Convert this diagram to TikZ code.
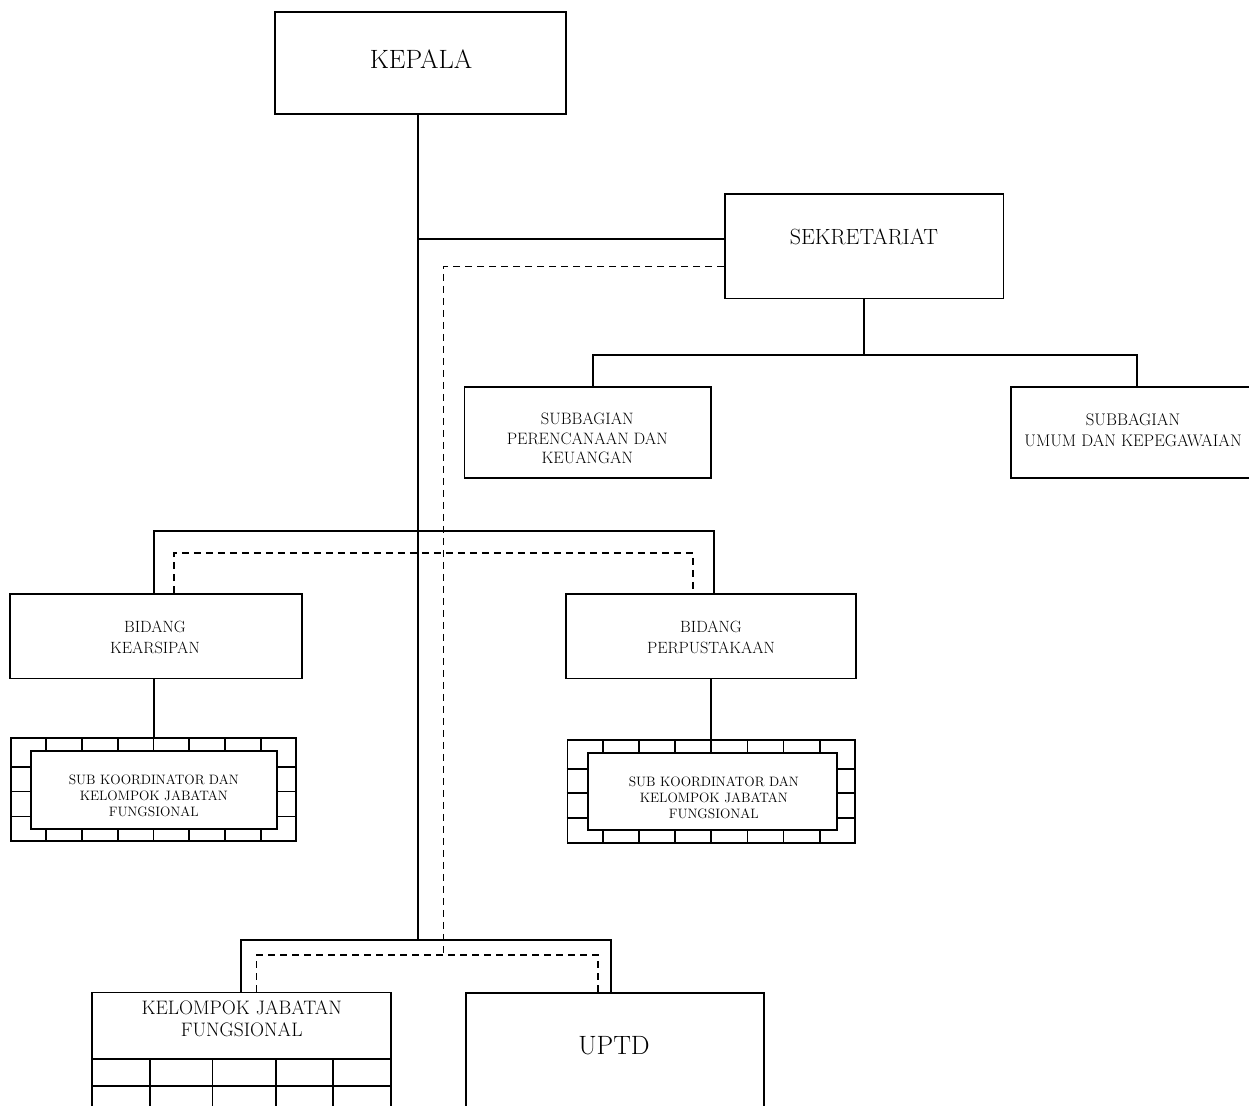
\documentclass[tikz,border=0pt]{standalone}
\usetikzlibrary{calc}
\begin{document}
\begin{tikzpicture}[x=1pt,y=-1pt,
  unit/.style={draw, line width=1.7pt, inner sep=0pt},
  caption/.style={inner sep=0pt, align=center},
  solidlink/.style={line width=1.7pt},
  dashlink/.style={line width=1.5pt, dash pattern=on 7pt off 5pt},
  brick/.style={line width=1.7pt}]
\useasboundingbox (0,0) rectangle (1249,1105);
\clip (0,0) rectangle (1249,1105);

% ---------- boxes ----------
\node[unit, minimum width=291pt, minimum height=102.6pt] (kepala) at (420.5,63) {};
\node[caption, font=\fontsize{26.5}{31}\selectfont] (kepala-t) at (421,59) {KEPALA};

\node[unit, minimum width=278.3pt, minimum height=104.3pt] (sek) at (864.2,246.2) {};
\node[caption, font=\fontsize{22}{26}\selectfont] (sek-t) at (864,237) {SEKRETARIAT};

\node[unit, minimum width=246.7pt, minimum height=91pt] (sub1) at (587.7,432.8) {};
\node[caption, font=\fontsize{16.5}{19.7}\selectfont] (sub1-t) at (587.3,438.5)
  {SUBBAGIAN\\PERENCANAAN DAN\\KEUANGAN};

\node[unit, minimum width=244pt, minimum height=91pt] (sub2) at (1133,432.5) {};
\node[caption, font=\fontsize{16.8}{21.5}\selectfont] (sub2-t) at (1133,430)
  {SUBBAGIAN\\UMUM DAN KEPEGAWAIAN};

\node[unit, minimum width=291.7pt, minimum height=84.5pt] (bidA) at (155.8,636.3) {};
\node[caption, font=\fontsize{16.3}{21}\selectfont] (bidA-t) at (155,637)
  {BIDANG\\KEARSIPAN};

\node[unit, minimum width=290.3pt, minimum height=84.5pt] (bidB) at (710.8,636.3) {};
\node[caption, font=\fontsize{16.3}{21}\selectfont] (bidB-t) at (711,637)
  {BIDANG\\PERPUSTAKAAN};

% framed groups below the two fields
\node[unit, minimum width=285pt, minimum height=102.4pt] (skA) at (153.5,789.5) {};
\node[unit, minimum width=246pt, minimum height=78.3pt] (skA-in) at (154,789.8) {};
\node[caption, font=\fontsize{13.6}{15.8}\selectfont] (skA-t) at (153.8,796)
  {SUB KOORDINATOR DAN\\KELOMPOK JABATAN\\FUNGSIONAL};

\node[unit, minimum width=287.7pt, minimum height=103pt] (skB) at (711.2,791.5) {};
\node[unit, minimum width=249pt, minimum height=77.3pt] (skB-in) at (712.2,791.3) {};
\node[caption, font=\fontsize{13.6}{15.8}\selectfont] (skB-t) at (713.8,798)
  {SUB KOORDINATOR DAN\\KELOMPOK JABATAN\\FUNGSIONAL};

\node[unit, minimum width=298.4pt, minimum height=137.7pt] (kjf) at (241.5,1061.2) {};
\node[caption, font=\fontsize{19.5}{21.7}\selectfont] (kjf-t) at (241.7,1018.8)
  {KELOMPOK JABATAN\\FUNGSIONAL};

\node[unit, minimum width=298pt, minimum height=137pt] (uptd) at (615,1061.5) {};
\node[caption, font=\fontsize{26.5}{30}\selectfont] (uptd-t) at (614,1045.5) {UPTD};

% ---------- brick frames ----------
\foreach \f in {skA,skB}{
  \foreach \i in {1,...,7}{
    \path ($(\f.north west)!\i/8!(\f.north east)$) coordinate (bt);
    \draw[brick] (bt) -- (bt |- \f-in.north);
    \path ($(\f.south west)!\i/8!(\f.south east)$) coordinate (bb);
    \draw[brick] (bb) -- (bb |- \f-in.south);
  }
  \foreach \d in {29.5,54,79}{
    \draw[brick] ([yshift=-\d pt]\f.north west) -- ([yshift=-\d pt]\f.north west -| \f-in.west);
    \draw[brick] ([yshift=-\d pt]\f.north east) -- ([yshift=-\d pt]\f.north east -| \f-in.east);
  }
}

% ---------- grid under the functional group ----------
\draw[brick] ([yshift=-67.7pt]kjf.north west) -- ([yshift=-67.7pt]kjf.north east);
\draw[brick] ([yshift=-94.4pt]kjf.north west) -- ([yshift=-94.4pt]kjf.north east);
\foreach \dx in {58.4,121,184.4,241.7}{
  \draw[brick] ([xshift=\dx pt, yshift=-67.7pt]kjf.north west) -- ([xshift=\dx pt]kjf.south west);
}

% ---------- command lines ----------
\coordinate (jSek) at (418.3,239.3);
\coordinate (jBid) at (418.3,531);
\coordinate (jBot) at (418.3,940);
\coordinate (jSub) at (864.2,355);

\draw[solidlink] ([xshift=-2.2pt]kepala.south) -- (jBot);
\draw[solidlink] (jSek) -- (jSek -| sek.west);
\draw[solidlink] (sek.south) -- (jSub);
\draw[solidlink] ([xshift=5.6pt]sub1.north) |- (jSub) -| ([xshift=4pt]sub2.north);
\draw[solidlink] ([xshift=-1.6pt]bidA.north) |- (jBid) -| ([xshift=3.2pt]bidB.north);
\draw[solidlink] ([xshift=-1.6pt]bidA.south) -- ([xshift=-1.6pt]bidA.south |- skA.north);
\draw[solidlink] (bidB.south) -- (bidB.south |- skB.north);
\draw[solidlink] ([xshift=-0.8pt]kjf.north) |- (jBot) -| ([xshift=-4pt]uptd.north);

% ---------- coordination lines ----------
\coordinate (dBid) at (443.3,553);
\coordinate (dBot) at (443.3,955);

\draw[dashlink] ([yshift=-20.5pt]sek.west) -| (dBot);
\draw[dashlink] ([xshift=18.2pt]bidA.north) |- (dBid) -| ([xshift=-17.8pt]bidB.north);
\draw[dashlink] ([xshift=15.2pt]kjf.north) |- (dBot) -| ([xshift=-17pt]uptd.north);
\end{tikzpicture}
\end{document}
